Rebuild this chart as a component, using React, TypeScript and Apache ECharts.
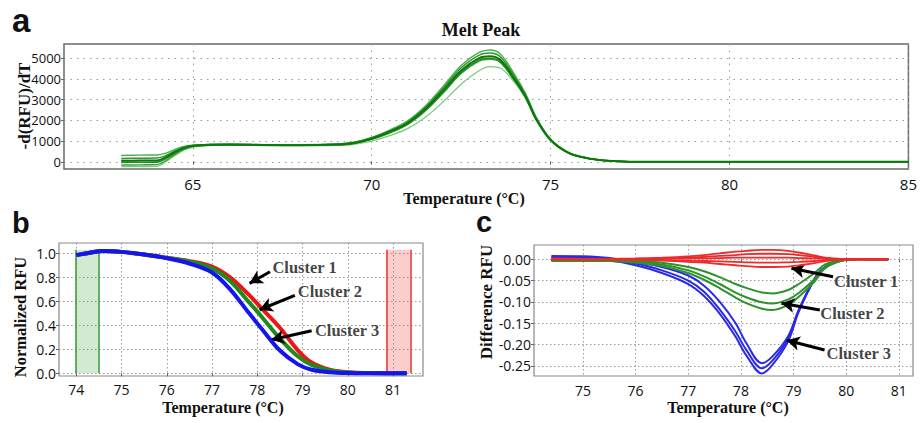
import React, { useEffect, useRef } from 'react';
import * as echarts from 'echarts';

// ---------- Panel a: Melt Peak ----------
const tempA = [63.0, 63.5, 64.0, 64.25, 64.5, 64.75, 65.0, 65.5, 66, 67, 68, 69, 69.5, 70, 70.5, 71, 71.5, 72, 72.5, 73, 73.3, 73.6, 74, 74.3, 74.6, 75, 75.5, 76, 76.5, 77, 78, 85];
const peakA1 = [300, 320, 330, 420, 600, 740, 800, 840, 850, 830, 820, 860, 950, 1180, 1530, 1980, 2700, 3650, 4650, 5280, 5400, 5200, 4200, 3300, 2150, 1100, 450, 190, 65, 15, 0, 0];
const peakA2 = [160, 170, 180, 300, 520, 700, 780, 830, 840, 820, 810, 845, 930, 1150, 1490, 1920, 2630, 3560, 4540, 5150, 5250, 5060, 4100, 3230, 2100, 1080, 440, 185, 62, 15, 0, 0];
const peakA3 = [50, 55, 60, 220, 470, 670, 770, 820, 830, 810, 800, 830, 910, 1120, 1450, 1870, 2560, 3460, 4410, 5010, 5100, 4920, 3980, 3150, 2050, 1050, 430, 180, 60, 15, 0, 0];
const peakA4 = [-30, -25, -20, 150, 420, 640, 750, 810, 820, 800, 795, 820, 895, 1100, 1420, 1830, 2500, 3380, 4320, 4910, 5000, 4830, 3920, 3110, 2030, 1040, 425, 178, 60, 15, 0, 0];
const peakA5 = [-160, -150, -140, 60, 360, 600, 730, 800, 815, 795, 790, 815, 885, 1080, 1390, 1790, 2450, 3320, 4260, 4860, 4950, 4790, 3890, 3090, 2020, 1035, 420, 176, 58, 14, 0, 0];
const peakA6 = [-240, -230, -220, 0, 300, 560, 700, 780, 800, 785, 775, 790, 845, 1000, 1260, 1600, 2150, 2900, 3750, 4400, 4600, 4520, 3820, 3080, 2040, 1060, 440, 185, 62, 15, 0, 0];
const xTicksA = [65, 70, 75, 80, 85];
const yTicksA = [0, 1000, 2000, 3000, 4000, 5000];

// ---------- Panel b: Normalized RFU ----------
const tempB = [74.0, 74.3, 74.6, 75.0, 75.5, 76.0, 76.5, 77.0, 77.4, 77.8, 78.1, 78.5, 78.9, 79.2, 79.6, 80.0, 80.5, 81.3];
const normRed = [0.985, 1.005, 1.02, 1.012, 0.99, 0.963, 0.935, 0.89, 0.80, 0.66, 0.54, 0.38, 0.19, 0.09, 0.03, 0.01, 0.002, 0.0];
const normGreen = [0.985, 1.005, 1.02, 1.012, 0.99, 0.962, 0.93, 0.875, 0.77, 0.60, 0.47, 0.29, 0.14, 0.07, 0.025, 0.008, 0.002, 0.0];
const normBlue = [0.985, 1.005, 1.02, 1.012, 0.99, 0.96, 0.915, 0.84, 0.70, 0.51, 0.37, 0.19, 0.075, 0.03, 0.01, 0.003, 0.001, 0.0];
const xTicksB = [74, 75, 76, 77, 78, 79, 80, 81];
const yTicksB = [0, 0.2, 0.4, 0.6, 0.8, 1.0];
const bandGreen = [74.0, 74.5];
const bandRed = [80.85, 81.38];
const bandTop = 1.03;

// ---------- Panel c: Difference RFU ----------
const tempC = [74.4, 75, 75.5, 76, 76.5, 77, 77.3, 77.6, 77.9, 78.1, 78.4, 78.6, 78.9, 79.1, 79.4, 79.6, 79.9, 80.2, 80.8];
const diffBlue1 = [0.008, 0.007, 0.003, -0.006, -0.018, -0.038, -0.062, -0.100, -0.150, -0.196, -0.244, -0.228, -0.180, -0.118, -0.045, -0.018, -0.003, 0.001, 0];
const diffBlue2 = [0.004, 0.004, 0.0, -0.010, -0.026, -0.050, -0.076, -0.118, -0.170, -0.212, -0.256, -0.238, -0.186, -0.120, -0.046, -0.018, -0.003, 0.001, 0];
const diffBlue3 = [0.001, 0.0, -0.003, -0.014, -0.032, -0.058, -0.086, -0.128, -0.182, -0.225, -0.268, -0.248, -0.192, -0.123, -0.047, -0.019, -0.003, 0.001, 0];
const diffGreen1 = [-0.002, -0.002, -0.002, -0.004, -0.008, -0.018, -0.028, -0.042, -0.058, -0.067, -0.078, -0.080, -0.072, -0.058, -0.032, -0.012, -0.002, 0, 0];
const diffGreen2 = [-0.003, -0.003, -0.003, -0.006, -0.012, -0.026, -0.040, -0.058, -0.078, -0.089, -0.101, -0.104, -0.094, -0.079, -0.047, -0.018, -0.003, 0, 0];
const diffGreen3 = [-0.004, -0.004, -0.004, -0.008, -0.016, -0.032, -0.048, -0.068, -0.090, -0.103, -0.116, -0.119, -0.107, -0.088, -0.052, -0.021, -0.004, 0, 0];
const diffRed1 = [0, 0, 0.001, 0.002, 0.004, 0.007, 0.010, 0.014, 0.018, 0.020, 0.022, 0.022, 0.020, 0.016, 0.009, 0.004, 0.001, 0, 0];
const diffRed2 = [0, 0, 0, 0.001, 0.002, 0.004, 0.006, 0.008, 0.010, 0.012, 0.013, 0.013, 0.012, 0.010, 0.006, 0.003, 0.001, 0, 0];
const diffRed3 = [0, 0, 0, 0, 0.001, 0.002, 0.002, 0.003, 0.004, 0.004, 0.004, 0.004, 0.004, 0.003, 0.002, 0.001, 0, 0, 0];
const diffRed4 = [0.001, 0.001, 0, -0.001, -0.002, -0.003, -0.004, -0.005, -0.006, -0.007, -0.008, -0.008, -0.007, -0.006, -0.004, -0.002, -0.001, 0, 0];
const diffRed5 = [0.002, 0.001, 0, -0.001, -0.003, -0.006, -0.008, -0.011, -0.014, -0.016, -0.018, -0.018, -0.017, -0.014, -0.009, -0.004, -0.001, 0, 0];
const xTicksC = [75, 76, 77, 78, 79, 80, 81];
const yTicksC = [0, -0.05, -0.10, -0.15, -0.20, -0.25];

// ---------- Annotations ----------
const clusterNames = ['Cluster 1', 'Cluster 2', 'Cluster 3'];
const arrowsB = [[78.28, 0.847, 77.83, 0.75], [78.83, 0.65, 78.05, 0.53], [79.2, 0.355, 78.31, 0.28]];
const labelPosB = [[78.3, 0.885], [78.86, 0.68], [79.24, 0.36]];
const arrowsC = [[79.75, -0.041, 78.96, -0.021], [79.5, -0.119, 78.77, -0.103], [79.59, -0.213, 78.87, -0.19]];
const labelPosC = [[79.74, -0.053], [79.48, -0.127], [79.6, -0.221]];

const SANS = 'Open Sans';
const SERIF = 'Liberation Serif';

const zip = (xs: number[], ys: number[]) => xs.map((x, i) => [x, ys[i]]);

function xAxisCfg(gridIndex: number, min: number, max: number, ticks: number[], gridType: any, fs: number, margin: number) {
  return {
    type: 'value', gridIndex, min, max,
    axisLine: { show: false },
    axisTick: { show: true, customValues: ticks, length: 3, lineStyle: { color: '#666' } },
    axisLabel: { customValues: ticks, fontFamily: SANS, fontSize: fs, color: '#111', margin },
    splitLine: { show: true, lineStyle: { type: gridType, color: '#9a9a9a', width: 1 } },
  };
}
function yAxisCfg(gridIndex: number, min: number, max: number, ticks: number[], fmt: (v: number) => string, gridType: any, fs: number) {
  return {
    type: 'value', gridIndex, min, max,
    axisLine: { show: false },
    axisTick: { show: true, customValues: ticks, length: 3, lineStyle: { color: '#666' } },
    axisLabel: { customValues: ticks, formatter: fmt, fontFamily: SANS, fontSize: fs, color: '#111', margin: 3 },
    splitLine: { show: true, lineStyle: { type: gridType, color: '#9a9a9a', width: 1 } },
  };
}

function lineSeries(xi: number, data: number[][], color: string, width: number, z = 3, opacity = 1) {
  return {
    type: 'line', xAxisIndex: xi, yAxisIndex: xi, data, showSymbol: false, symbol: 'none',
    smooth: 0.35, z, lineStyle: { color, width, opacity }, silent: true,
  };
}

function annotationSeries(xi: number, arrows: number[][], labels: number[][]) {
  return {
    type: 'scatter', xAxisIndex: xi, yAxisIndex: xi, symbolSize: 1, z: 10, silent: true,
    itemStyle: { color: 'rgba(0,0,0,0)' },
    data: labels.map((p, i) => ({ value: [p[0], p[1]], name: clusterNames[i] })),
    label: {
      show: true, position: 'right', distance: 1, formatter: (p: any) => p.name,
      fontFamily: SERIF, fontWeight: 'bold', fontSize: 16.5, color: '#111',
    },
    markLine: {
      silent: true, symbol: ['none', 'arrow'], symbolSize: [11, 13], animation: false,
      label: { show: false },
      lineStyle: { color: '#000', width: 3, type: 'solid' },
      data: arrows.map((a) => [{ coord: [a[0], a[1]] }, { coord: [a[2], a[3]] }]),
    },
  };
}

export default function App() {
  const ref = useRef<HTMLDivElement>(null);
  useEffect(() => {
    if (!ref.current) return;
    const chart = echarts.init(ref.current, undefined, { renderer: 'svg' });
    const dotA = [1.5, 5];
    const dotBC = [1.5, 2.5];
    const nameFont = `bold 16px "${SERIF}"`;
    const option: any = {
      animation: false,
      backgroundColor: '#fff',
      grid: [
        { left: 64, top: 44, width: 849, height: 125, show: true, borderColor: '#6a6a6a', borderWidth: 1.5, containLabel: false },
        { left: 59, top: 243, width: 364, height: 133, show: true, borderColor: '#8a8a8a', borderWidth: 1.2, containLabel: false },
        { left: 534, top: 245, width: 379, height: 131, show: true, borderColor: '#8a8a8a', borderWidth: 1.2, containLabel: false },
      ],
      xAxis: [
        xAxisCfg(0, 61.4, 85, xTicksA, dotA, 15, 7),
        xAxisCfg(1, 73.62, 81.66, xTicksB, dotBC, 14, 6),
        xAxisCfg(2, 74.07, 81.27, xTicksC, dotBC, 14, 7),
      ],
      yAxis: [
        yAxisCfg(0, -350, 5690, yTicksA, (v) => String(v), dotA, 13),
        yAxisCfg(1, -0.022, 1.086, yTicksB, (v) => v.toFixed(1), dotBC, 14),
        yAxisCfg(2, -0.274, 0.0336, yTicksC, (v) => v.toFixed(2), dotBC, 14),
      ],
      series: [
        // panel a
        lineSeries(0, zip(tempA, peakA6), '#7cc87c', 1.3),
        lineSeries(0, zip(tempA, peakA1), '#4fae4f', 1.4),
        lineSeries(0, zip(tempA, peakA5), '#3a9e3a', 1.4),
        lineSeries(0, zip(tempA, peakA2), '#2f972f', 1.5),
        lineSeries(0, zip(tempA, peakA4), '#228c22', 1.6),
        lineSeries(0, zip(tempA, peakA3), '#0b780b', 2),
        // panel b bands
        {
          type: 'line', xAxisIndex: 1, yAxisIndex: 1, data: [], z: 1, silent: true,
          markArea: {
            silent: true,
            data: [
              [{ xAxis: bandGreen[0], yAxis: 0, itemStyle: { color: 'rgba(70,170,70,0.25)' } }, { xAxis: bandGreen[1], yAxis: bandTop }],
              [{ xAxis: bandRed[0], yAxis: 0, itemStyle: { color: 'rgba(245,90,90,0.3)' } }, { xAxis: bandRed[1], yAxis: bandTop }],
            ],
          },
          markLine: {
            silent: true, symbol: ['none', 'none'], label: { show: false },
            data: [
              [{ coord: [bandGreen[0], 0], lineStyle: { color: '#3f9f3f', width: 1.6, type: 'solid' } }, { coord: [bandGreen[0], bandTop] }],
              [{ coord: [bandGreen[1], 0], lineStyle: { color: '#3f9f3f', width: 1.6, type: 'solid' } }, { coord: [bandGreen[1], bandTop] }],
              [{ coord: [bandRed[0], 0], lineStyle: { color: '#f03c3c', width: 1.6, type: 'solid' } }, { coord: [bandRed[0], bandTop] }],
              [{ coord: [bandRed[1], 0], lineStyle: { color: '#f03c3c', width: 1.6, type: 'solid' } }, { coord: [bandRed[1], bandTop] }],
            ],
          },
        },
        lineSeries(1, zip(tempB, normRed), '#f01414', 4, 3),
        lineSeries(1, zip(tempB, normGreen), '#1f8a1f', 4, 4),
        lineSeries(1, zip(tempB, normBlue), '#1414ee', 4, 5),
        annotationSeries(1, arrowsB, labelPosB),
        // panel c
        lineSeries(2, zip(tempC, diffBlue1), '#2a2ae6', 2, 3),
        lineSeries(2, zip(tempC, diffBlue2), '#2a2ae6', 2, 3),
        lineSeries(2, zip(tempC, diffBlue3), '#2a2ae6', 2, 3),
        lineSeries(2, zip(tempC, diffGreen1), '#2c922c', 2, 4),
        lineSeries(2, zip(tempC, diffGreen2), '#2c922c', 2, 4),
        lineSeries(2, zip(tempC, diffGreen3), '#2c922c', 2, 4),
        lineSeries(2, zip(tempC, diffRed1), '#ee2a2a', 1.8, 5),
        lineSeries(2, zip(tempC, diffRed2), '#ee2a2a', 1.8, 5),
        lineSeries(2, zip(tempC, diffRed3), '#ee2a2a', 1.8, 5),
        lineSeries(2, zip(tempC, diffRed4), '#ee2a2a', 1.8, 5),
        lineSeries(2, zip(tempC, diffRed5), '#ee2a2a', 1.8, 5),
        annotationSeries(2, arrowsC, labelPosC),
      ],
      graphic: [
        { type: 'text', left: 12, top: 4, style: { text: 'a', font: 'bold 33px "Liberation Sans"', fill: '#111' } },
        { type: 'text', left: 12, top: 208, style: { text: 'b', font: 'bold 29px "Liberation Sans"', fill: '#111' } },
        { type: 'text', left: 476, top: 207, style: { text: 'c', font: 'bold 29px "Liberation Sans"', fill: '#111' } },
        { type: 'text', x: 481, y: 30, style: { text: 'Melt Peak', font: `bold 18px "${SERIF}"`, fill: '#111', align: 'center', verticalAlign: 'middle' } },
        { type: 'text', x: 464, y: 198, style: { text: 'Temperature (°C)', font: nameFont, fill: '#111', align: 'center', verticalAlign: 'middle' } },
        { type: 'text', x: 223, y: 407, style: { text: 'Temperature (°C)', font: nameFont, fill: '#111', align: 'center', verticalAlign: 'middle' } },
        { type: 'text', x: 728, y: 407, style: { text: 'Temperature (°C)', font: nameFont, fill: '#111', align: 'center', verticalAlign: 'middle' } },
        { type: 'text', x: 24, y: 106, rotation: Math.PI / 2, style: { text: '-d(RFU)/dT', font: `bold 17px "${SERIF}"`, fill: '#111', align: 'center', verticalAlign: 'middle' } },
        { type: 'text', x: 20, y: 317, rotation: Math.PI / 2, style: { text: 'Normalized RFU', font: `bold 16.5px "${SERIF}"`, fill: '#111', align: 'center', verticalAlign: 'middle' } },
        { type: 'text', x: 486, y: 302, rotation: Math.PI / 2, style: { text: 'Difference RFU', font: `bold 17px "${SERIF}"`, fill: '#111', align: 'center', verticalAlign: 'middle' } },
      ],
    };
    chart.setOption(option);
    return () => chart.dispose();
  }, []);
  return <div ref={ref} style={{ position: 'fixed', left: 0, top: 0, width: 920, height: 423 }} />;
}
